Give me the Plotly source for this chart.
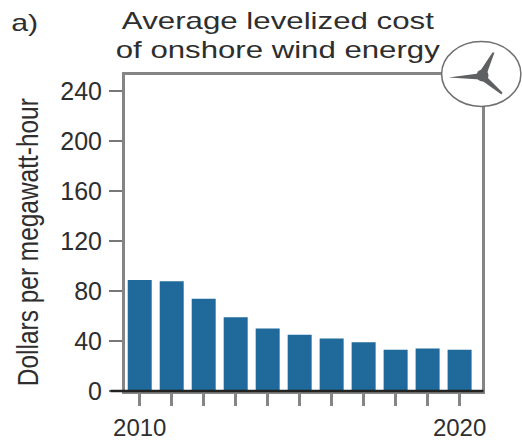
import json
import plotly.graph_objects as go

years = [2010, 2011, 2012, 2013, 2014, 2015, 2016, 2017, 2018, 2019, 2020]
costs = [89, 88, 74, 59, 50, 45, 42, 39, 33, 34, 33]
y_ticks = [0, 40, 80, 120, 160, 200, 240]
x_labels = ["2010", "", "", "", "", "", "", "", "", "", "2020"]
title_lines = ["Average levelized cost", "of onshore wind energy"]
y_title = "Dollars per megawatt-hour"
panel_label = "a)"

W, H = 522, 440
L, R, T, B = 124.5, 482.5, 74.5, 391
GRAY = "#858585"
TXT = "#2e2e2e"
FONT = "Liberation Sans"

def px(x):
    return (x - L) / (R - L)

def py(y):
    return (B - y) / (B - T)

def path(points):
    return "M " + " L ".join(f"{px(x):.4f},{py(y):.4f}" for x, y in points) + " Z"

fig = go.Figure(go.Bar(x=years, y=costs, width=0.75, marker=dict(color="#1f6a9a", line_width=0)))

fig.update_layout(
    width=W, height=H, autosize=False,
    margin=dict(l=L, r=W - R, t=T, b=H - B, pad=0),
    paper_bgcolor="white", plot_bgcolor="white", showlegend=False,
    font=dict(family=FONT, color=TXT),
    shapes=[
        dict(type="line", xref="paper", yref="paper", x0=px(110), x1=px(484), y0=0, y1=0,
             line=dict(color="#222222", width=2.5)),
        dict(type="circle", xref="paper", yref="paper", x0=px(442), x1=px(521.5), y0=py(106), y1=py(41),
             line=dict(color="#6f6f6f", width=1.5), fillcolor="white"),
        dict(type="path", xref="paper", yref="paper", line_width=0, fillcolor="#5f6062",
             path=path([(449, 77), (479, 73), (493, 52), (495, 52), (487, 74), (487, 76),
                        (503, 92), (502, 94), (481, 79)])),
        dict(type="circle", xref="paper", yref="paper", x0=px(477), x1=px(489), y0=py(81), y1=py(69),
             line_width=0, fillcolor="#5f6062"),
    ],
    annotations=[
        dict(text=title_lines[0], xref="paper", yref="paper", x=px(278), y=py(20), showarrow=False,
             font=dict(size=24, family=FONT, color=TXT), xanchor="center", yanchor="middle"),
        dict(text=title_lines[1], xref="paper", yref="paper", x=px(278), y=py(49), showarrow=False,
             font=dict(size=24, family=FONT, color=TXT), xanchor="center", yanchor="middle"),
        dict(text=panel_label, xref="paper", yref="paper", x=px(24), y=py(22), showarrow=False,
             font=dict(size=24, family=FONT, color=TXT), xanchor="center", yanchor="middle"),
        dict(text=y_title, xref="paper", yref="paper", x=px(27), y=py(242), showarrow=False, textangle=-90,
             font=dict(size=29, family=FONT, color=TXT), xanchor="center", yanchor="middle"),
    ],
)
fig.update_xaxes(
    range=[2010 - 0.46, 2020 + 0.70], tickmode="array", tickvals=years, ticktext=x_labels,
    ticks="outside", ticklen=12, tickwidth=3, tickcolor=GRAY, showgrid=False, zeroline=False,
    showline=True, linecolor=GRAY, linewidth=3, mirror=True, automargin=False, ticklabelstandoff=1,
    tickfont=dict(size=24, color=TXT, family=FONT),
)
fig.update_yaxes(
    range=[0, (B - T) / 1.25], tickmode="array", tickvals=y_ticks,
    ticks="outside", ticklen=13, tickwidth=2, tickcolor="#777777", showgrid=False, zeroline=False,
    showline=True, linecolor=GRAY, linewidth=3, mirror=True, automargin=False, ticklabelstandoff=2,
    tickfont=dict(size=25, color=TXT, family=FONT),
)

lengths = {title_lines[0]: 312, title_lines[1]: 324, panel_label: 27, y_title: 288}
script = """
document.body.style.margin = '0';
var lengths = %s;
document.querySelectorAll('.annotation-text').forEach(function (t) {
  var n = lengths[t.textContent];
  if (n) { t.setAttribute('textLength', n); t.setAttribute('lengthAdjust', 'spacingAndGlyphs'); }
});
""" % json.dumps(lengths)
fig.write_html("out.html", post_script=script, config={"displayModeBar": False})
